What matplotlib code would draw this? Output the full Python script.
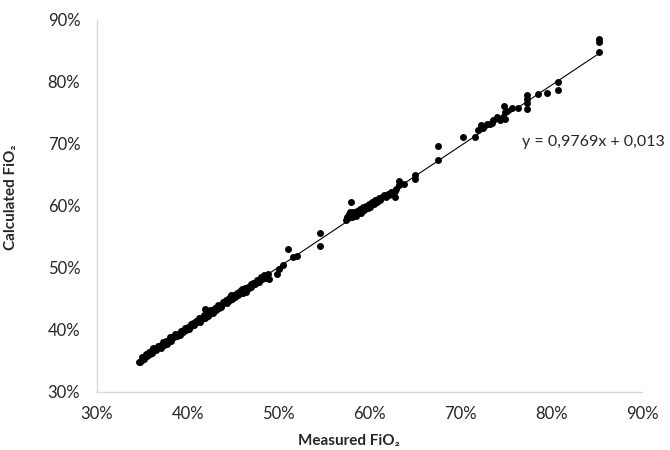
import matplotlib
matplotlib.use("Agg")
import matplotlib.pyplot as plt
import numpy as np
from matplotlib.ticker import FuncFormatter

# Measured FiO2 (%) and calculated FiO2 (%)
measured = [
    34.6, 34.7, 34.9, 35.0, 35.2, 35.4, 35.5, 35.7, 35.8, 36.0, 36.1, 36.2, 36.4, 36.5,
    36.7, 36.8, 37.0, 37.1, 37.3, 37.4, 37.6, 37.7, 37.9, 38.0, 38.2, 38.3, 38.5, 38.6,
    38.8, 38.9, 39.1, 39.2, 39.4, 39.5, 39.7, 39.8, 40.0, 40.1, 40.3, 40.4, 40.6, 40.7,
    40.9, 41.0, 41.2, 41.3, 41.5, 41.6, 41.9, 41.8, 41.9, 42.1, 42.2, 42.4, 42.5, 42.7,
    42.8, 43.0, 43.1, 43.3, 43.4, 43.6, 43.7, 43.9, 44.0, 44.2, 44.3, 44.5, 44.6, 44.8,
    44.9, 45.1, 45.2, 45.4, 45.5, 45.7, 45.8, 46.0, 46.1, 46.3, 46.4, 46.6, 46.7, 46.9,
    47.0, 47.2, 47.4, 47.6, 47.8, 48.0, 48.2, 48.4, 48.6, 48.8, 48.9, 49.8, 50.0, 50.5,
    51.0, 51.6, 52.0, 54.5, 54.5,
    57.4, 57.5, 57.6, 57.7, 57.8, 57.8, 58.0, 58.0, 58.1, 58.2, 58.3, 58.5, 58.6, 58.8,
    59.0, 59.1, 59.3, 59.4, 59.6, 59.8, 60.0, 60.1, 60.3, 60.5, 60.6, 60.8, 61.0, 61.2,
    61.4, 61.6, 61.8, 62.0, 62.2, 62.4, 62.6, 62.8, 62.8, 62.9, 63.3, 63.3, 63.8, 65.0,
    65.0, 67.5, 67.5,
    70.3, 71.6, 72.0, 72.3, 72.5, 72.9, 73.3, 73.6, 73.5, 74.0, 74.4, 74.7, 74.9, 74.8,
    74.9, 75.1, 75.7, 76.3, 77.3, 77.3, 77.3, 77.3, 78.6, 79.5, 80.8, 80.8, 85.3, 85.3,
    85.3,
]
calculated = [
    34.9, 34.9, 35.2, 35.6, 35.4, 36.1, 35.8, 36.5, 36.2, 36.7, 36.3, 37.1, 36.9, 36.8,
    37.5, 37.2, 37.6, 37.1, 38.1, 37.6, 38.3, 37.8, 38.4, 38.8, 38.3, 38.9, 38.8, 39.4,
    39.0, 39.4, 39.2, 39.9, 39.8, 39.6, 40.4, 40.0, 40.5, 40.2, 41.0, 40.7, 41.2, 40.8,
    41.5, 41.3, 41.9, 41.3, 41.9, 41.7, 43.4, 42.4, 41.9, 42.7, 42.3, 43.2, 42.7, 43.3,
    42.8, 43.5, 43.2, 44.0, 43.6, 44.1, 43.7, 44.5, 44.3, 44.9, 44.4, 45.1, 44.8, 45.6,
    45.0, 45.7, 45.4, 46.0, 45.6, 46.3, 45.9, 46.6, 46.0, 46.8, 46.2, 47.0, 46.8, 47.4,
    47.0, 47.6, 47.5, 48.1, 47.8, 48.6, 48.3, 48.9, 48.4, 49.1, 48.3, 49.1, 49.8, 50.5,
    53.0, 51.7, 51.9, 55.6, 53.5,
    57.7, 58.3, 58.0, 58.7, 58.4, 59.0, 60.6, 58.6, 58.2, 59.1, 58.7, 58.4, 59.2, 58.8,
    59.5, 58.9, 59.8, 59.3, 60.0, 59.6, 60.3, 59.8, 60.7, 60.4, 61.0, 60.6, 61.3, 60.9,
    61.5, 61.8, 61.4, 62.0, 61.7, 62.2, 62.1, 62.4, 61.4, 62.8, 64.0, 63.4, 63.5, 65.0,
    64.4, 69.7, 67.5,
    71.1, 71.1, 72.3, 73.1, 72.6, 73.3, 73.2, 73.9, 73.4, 74.3, 73.9, 74.4, 74.0, 76.1,
    75.2, 75.4, 75.8, 75.8, 77.9, 77.3, 76.6, 75.6, 78.1, 78.2, 80.0, 78.7, 86.9, 86.4,
    84.8,
]
slope = 0.9769
intercept = 0.013
equation_label = "y = 0,9769x + 0,013"
ticks = [0.3, 0.4, 0.5, 0.6, 0.7, 0.8, 0.9]

x = np.array(measured) / 100.0
y = np.array(calculated) / 100.0

plt.rcParams['font.family'] = ['Lato', 'DejaVu Sans']

fig = plt.figure(figsize=(6.7, 4.5), dpi=100)
ax = fig.add_axes([97 / 670, 1 - 392 / 450, 545 / 670, 372 / 450])

ax.plot(x, y, 'o', color='black', markersize=5.0, markeredgewidth=0, zorder=3)
xl = np.array([x.min(), x.max()])
ax.plot(xl, slope * xl + intercept, color='black', linewidth=0.8, zorder=2)

ax.set_xlim(0.3, 0.9)
ax.set_ylim(0.3, 0.9)
ax.set_xticks(ticks)
ax.set_yticks(ticks)
pct = FuncFormatter(lambda v, p: f"{v*100:.0f}%")
ax.xaxis.set_major_formatter(pct)
ax.yaxis.set_major_formatter(pct)
ax.tick_params(axis='both', length=0, labelsize=12, colors='#262626')
ax.tick_params(axis='x', pad=10)
ax.tick_params(axis='y', pad=12)

for s in ['top', 'right']:
    ax.spines[s].set_visible(False)
for s in ['left', 'bottom']:
    ax.spines[s].set_color('#d9d9d9')
    ax.spines[s].set_linewidth(1.0)

ax.set_xlabel("Measured FiO\u2082", fontsize=11, fontweight='bold', color='#262626')
ax.set_ylabel("Calculated FiO\u2082", fontsize=11, fontweight='bold', color='#262626')
ax.xaxis.set_label_coords((349 - 97) / 545, -(434 - 392) / 372)
ax.yaxis.set_label_coords(-(97 - 18) / 545, (392 - 197) / 372)

ax.text(522 / 670, 1 - 142 / 450, equation_label, transform=fig.transFigure,
        fontsize=11.5, color='#262626', ha='left', va='center')

fig.savefig("out.png", dpi=100)
